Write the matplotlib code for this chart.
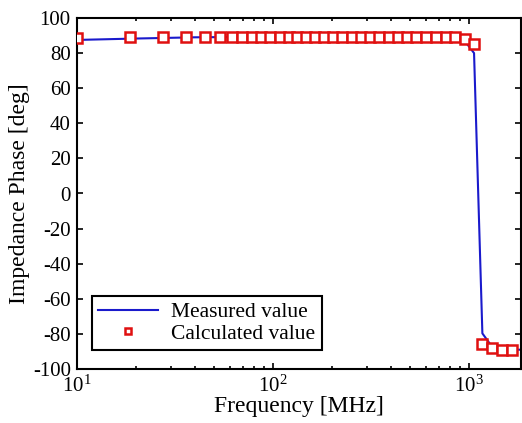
import matplotlib
matplotlib.use("Agg")
import matplotlib.pyplot as plt
from matplotlib.ticker import LogLocator, NullFormatter

plt.rcParams['font.family'] = ['Liberation Serif', 'DejaVu Serif']
plt.rcParams['mathtext.fontset'] = 'stix'
plt.rcParams['axes.unicode_minus'] = False

# Measured value (line)
meas_freq = [10, 20, 40, 100, 300, 700, 880, 957, 1060, 1169, 1315, 1500, 1730, 1840]
meas_phase = [87.5, 88.3, 89.0, 89.3, 89.3, 89.2, 88.8, 86.5, 80.0, -79.7, -87.6, -88.6, -89.0, -89.0]

# Calculated value (markers)
calc_freq = [10, 18.6, 27.5, 35.9, 44.8, 53.4, 61.7, 69.4, 78, 87, 96.8, 108, 120, 133,
             147.5, 164, 183, 203, 226, 253, 281, 313, 348, 389, 432, 482, 535, 602,
             677, 760, 849, 955, 1060, 1169, 1315, 1476, 1649]
calc_phase = [88.6, 89.0, 89.2, 89.4, 89.4, 89.4, 89.4, 89.4, 89.4, 89.4, 89.4, 89.4, 89.4, 89.4,
              89.4, 89.4, 89.4, 89.4, 89.4, 89.4, 89.4, 89.4, 89.4, 89.4, 89.4, 89.4, 89.4, 89.4,
              89.4, 89.4, 89.4, 88.0, 85.2, -85.8, -88.2, -89.3, -89.3]

fig = plt.figure(figsize=(5.22, 4.23), dpi=100)
ax = fig.add_axes([77/522, (423-369)/423, (521-77)/522, (369-18)/423])

ax.plot(meas_freq, meas_phase, color='#1a1acc', lw=1.5, label='Measured value', zorder=2)
ax.plot(calc_freq, calc_phase, ls='none', marker='s', ms=6.5, mfc='white', mec='#e01010',
        mew=1.8, label='Calculated value', zorder=3)

ax.set_xscale('log')
ax.set_xlim(10, 1840)
ax.set_ylim(-100, 100)
ax.set_yticks(range(-100, 101, 20))
ax.xaxis.set_major_locator(LogLocator(base=10, numticks=10))
ax.xaxis.set_minor_locator(LogLocator(base=10, subs=range(2, 10), numticks=20))
ax.xaxis.set_minor_formatter(NullFormatter())

ax.tick_params(which='both', direction='in', top=True, right=True, labelsize=15, width=1.2)
ax.tick_params(which='major', length=4)
ax.tick_params(which='minor', length=2.5)
ax.tick_params(axis='x', which='major', pad=5)
ax.tick_params(axis='y', which='major', pad=4.5)
for s in ax.spines.values():
    s.set_linewidth(1.5)

ax.set_xlabel('Frequency [MHz]', fontsize=17, labelpad=-1)
ax.set_ylabel('Impedance Phase [deg]', fontsize=17, labelpad=2)

leg = ax.legend(loc='lower left', bbox_to_anchor=(0.033, 0.054), fontsize=15.5, frameon=True,
                fancybox=False, edgecolor='black', framealpha=1, borderpad=0.3,
                labelspacing=0.05, handlelength=2.8, handletextpad=0.6, borderaxespad=0,
                markerscale=0.75)
leg.get_frame().set_linewidth(1.5)

fig.savefig('out.png', dpi=100)
